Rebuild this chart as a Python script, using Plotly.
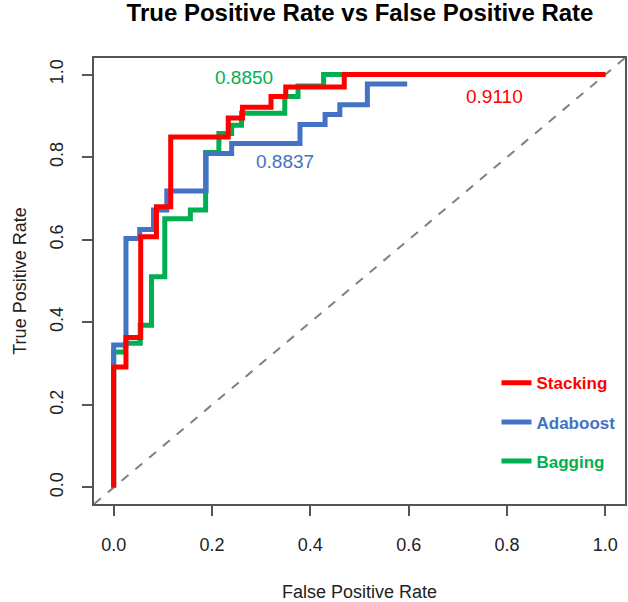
import plotly.graph_objects as go

# ---- data ----
stack_fpr = [0.0, 0.025, 0.055, 0.087, 0.116, 0.233, 0.262, 0.320, 0.350, 0.469, 1.0]
stack_tpr = [0.0, 0.292, 0.363, 0.607, 0.680, 0.849, 0.895, 0.921, 0.947, 0.970, 1.0]

ada_fpr = [0.0, 0.025, 0.053, 0.081, 0.108, 0.188, 0.240, 0.379, 0.430, 0.460, 0.516, 0.597]
ada_tpr = [0.0, 0.345, 0.603, 0.625, 0.672, 0.718, 0.809, 0.833, 0.879, 0.903, 0.927, 0.977]

bag_fpr = [0.0, 0.024, 0.054, 0.077, 0.104, 0.156, 0.187, 0.214, 0.240, 0.260, 0.348, 0.375, 0.427, 1.0]
bag_tpr = [0.0, 0.328, 0.349, 0.393, 0.510, 0.651, 0.672, 0.811, 0.857, 0.877, 0.906, 0.947, 0.972, 1.0]

auc_labels = ["0.9110", "0.8837", "0.8850"]
auc_fpr = [0.775, 0.348, 0.265]
auc_tpr = [0.946, 0.789, 0.992]

tick_vals = [0.0, 0.2, 0.4, 0.6, 0.8, 1.0]
tick_text = ["0.0", "0.2", "0.4", "0.6", "0.8", "1.0"]

x_range = [-0.04, 1.04]
y_range = [-0.04, 1.04]

RED = "#FF0000"
BLUE = "#4472C4"
GREEN = "#00B050"
FONT = "Liberation Sans, Arial, sans-serif"

fig = go.Figure()

# diagonal reference line across the whole plot region
fig.add_trace(go.Scatter(
    x=x_range, y=y_range, mode="lines",
    line=dict(color="#808080", width=2, dash="dash"), showlegend=False,
    hoverinfo="skip"))

fig.add_trace(go.Scatter(
    x=bag_fpr, y=bag_tpr, mode="lines", line=dict(color=GREEN, width=5, shape="vh"),
    name="<b><span style='color:%s'>Bagging</span></b>" % GREEN,
    legendgroup="g3", legendrank=3))
fig.add_trace(go.Scatter(
    x=ada_fpr, y=ada_tpr, mode="lines", line=dict(color=BLUE, width=5, shape="vh"),
    name="<b><span style='color:%s'>Adaboost</span></b>" % BLUE,
    legendgroup="g2", legendrank=2))
fig.add_trace(go.Scatter(
    x=stack_fpr, y=stack_tpr, mode="lines", line=dict(color=RED, width=5, shape="vh"),
    name="<b><span style='color:%s'>Stacking</span></b>" % RED,
    legendgroup="g1", legendrank=1))

for txt, xx, yy, col in zip(auc_labels, auc_fpr, auc_tpr, [RED, BLUE, GREEN]):
    fig.add_annotation(x=xx, y=yy, text=txt, showarrow=False,
                       font=dict(family=FONT, size=19, color=col),
                       xanchor="center", yanchor="middle")

axis_common = dict(
    showgrid=False, zeroline=False, showline=True, linecolor="#555555", linewidth=1.5,
    mirror=True, ticks="outside", ticklen=10, tickwidth=1.5, tickcolor="#555555",
    tickvals=tick_vals, ticktext=tick_text, automargin=False,
    tickfont=dict(family=FONT, size=18, color="#222222"),
)

fig.update_layout(
    width=628, height=602,
    margin=dict(l=94, r=3, t=58, b=98),
    paper_bgcolor="white", plot_bgcolor="white",
    title=dict(text="<b>True Positive Rate vs False Positive Rate</b>",
               x=360 / 628, xanchor="center", y=1 - 13 / 602, yanchor="middle",
               yref="container", xref="container", automargin=False,
               font=dict(family=FONT, size=24, color="#000000")),
    xaxis=dict(range=x_range, ticklabelstandoff=14,
               title=dict(text="False Positive Rate",
                          font=dict(family=FONT, size=18, color="#222222"), standoff=31),
               **axis_common),
    yaxis=dict(range=y_range, tickangle=-90, ticklabelstandoff=12,
               title=dict(text="True Positive Rate",
                          font=dict(family=FONT, size=18, color="#222222"), standoff=16),
               **axis_common),
    legend=dict(x=0.758, y=0.311, xanchor="left", yanchor="top",
                traceorder="grouped", tracegroupgap=14,
                font=dict(family=FONT, size=17), bgcolor="rgba(0,0,0,0)",
                itemwidth=30),
)

fig.write_html("out.html", config={"displayModeBar": False},
               post_script="document.body.style.margin='0';")
